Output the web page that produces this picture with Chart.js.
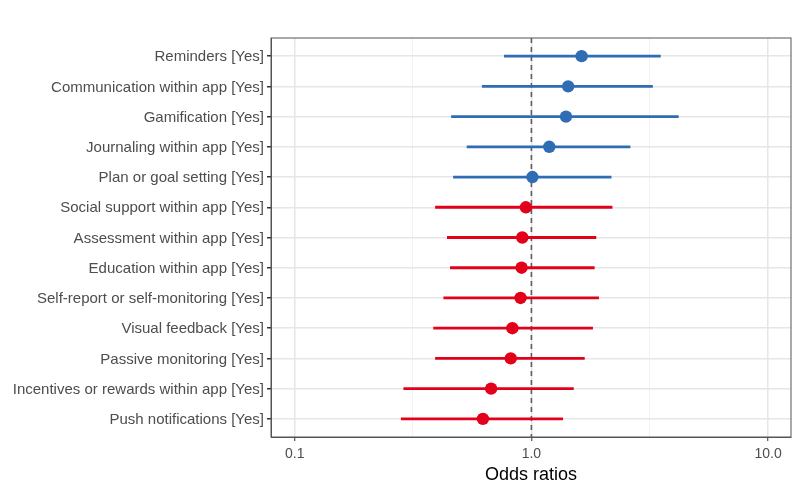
<!DOCTYPE html>
<html>
<head>
<meta charset="utf-8">
<script src="https://cdn.jsdelivr.net/npm/chart.js@4"></script>
<style>
  html, body { margin: 0; padding: 0; background: #fff; }
  #wrap { width: 800px; height: 492px; }
</style>
</head>
<body>
<div id="wrap"><canvas id="forest"></canvas></div>
<script>
// values
const labels = [
    'Reminders [Yes]',
    'Communication within app [Yes]',
    'Gamification [Yes]',
    'Journaling within app [Yes]',
    'Plan or goal setting [Yes]',
    'Social support within app [Yes]',
    'Assessment within app [Yes]',
    'Education within app [Yes]',
    'Self-report or self-monitoring [Yes]',
    'Visual feedback [Yes]',
    'Passive monitoring [Yes]',
    'Incentives or rewards within app [Yes]',
    'Push notifications [Yes]'
];
const oddsRatio = [1.63, 1.43, 1.40, 1.19, 1.01, 0.948, 0.915, 0.909, 0.90, 0.831, 0.818, 0.676, 0.624];
const ciLow     = [0.766, 0.618, 0.458, 0.533, 0.467, 0.392, 0.440, 0.453, 0.425, 0.385, 0.392, 0.288, 0.281];
const ciHigh    = [3.52, 3.26, 4.19, 2.62, 2.18, 2.20, 1.88, 1.85, 1.93, 1.82, 1.68, 1.51, 1.36];
const xTicks    = [0.1, 0.316, 1, 3.16, 10];
const xTickText = ['0.1', '', '1.0', '', '10.0'];

const BLUE = '#2E6DB4';
const RED = '#E3001B';
const colorOf = i => (oddsRatio[i] > 1 ? BLUE : RED);

const ciSets = labels.map((lab, i) => ({
    type: 'line',
    label: lab,
    data: [{ x: ciLow[i], y: i }, { x: ciHigh[i], y: i }],
    borderColor: colorOf(i),
    borderWidth: 2.8,
    pointRadius: 0,
    order: 2
}));

const refLine = {
    type: 'line',
    label: 'ref',
    data: [{ x: 1, y: -0.6 }, { x: 1, y: labels.length - 0.4 }],
    borderColor: '#606060',
    borderWidth: 1.6,
    borderDash: [5, 4],
    pointRadius: 0,
    order: 3
};

const points = {
    type: 'scatter',
    label: 'OR',
    data: oddsRatio.map((v, i) => ({ x: v, y: i })),
    backgroundColor: labels.map((_, i) => colorOf(i)),
    borderWidth: 0,
    pointRadius: 6.2,
    order: 1
};

Chart.defaults.font.family = 'Arial, "Liberation Sans", sans-serif';

document.addEventListener('DOMContentLoaded', () => {
    new Chart(document.getElementById('forest'), {
        data: { datasets: [...ciSets, refLine, points] },
        options: {
            responsive: true,
            maintainAspectRatio: false,
            animation: false,
            layout: { padding: { top: 38, right: 9, left: 0, bottom: 6 } },
            plugins: { legend: { display: false }, tooltip: { enabled: false } },
            scales: {
                x: {
                    type: 'logarithmic',
                    min: 0.0794,
                    max: 12.5,
                    afterBuildTicks: s => { s.ticks = xTicks.map(v => ({ value: v })); },
                    afterFit: s => { s.height = 49; },
                    ticks: {
                        autoSkip: false,
                        maxRotation: 0,
                        color: '#4D4D4D',
                        font: { size: 14 },
                        padding: 5,
                        callback: (v, idx) => xTickText[idx]
                    },
                    grid: {
                        color: c => (xTickText[c.index] ? '#E6E6E6' : '#F0F0F0'),
                        lineWidth: c => (xTickText[c.index] ? 1.5 : 0.9),
                        tickColor: c => (xTickText[c.index] ? '#333333' : 'rgba(0,0,0,0)'),
                        tickLength: 4,
                        tickWidth: 1
                    },
                    border: { color: '#555555', width: 1 },
                    title: {
                        display: true,
                        text: 'Odds ratios',
                        color: '#000',
                        font: { size: 18 },
                        padding: { top: 0, bottom: 0 }
                    }
                },
                y: {
                    type: 'linear',
                    reverse: true,
                    min: -0.6,
                    max: labels.length - 0.4,
                    afterBuildTicks: s => { s.ticks = labels.map((_, i) => ({ value: i })); },
                    afterFit: s => { s.width = 271; },
                    ticks: {
                        autoSkip: false,
                        color: '#4D4D4D',
                        font: { size: 15 },
                        padding: 3,
                        labelOffset: 1,
                        callback: (v) => labels[v]
                    },
                    grid: {
                        color: '#E6E6E6',
                        lineWidth: 1.5,
                        tickColor: '#333333',
                        tickLength: 4
                    },
                    border: { color: '#555555', width: 1 }
                }
            }
        },
        plugins: [{
            id: 'panelBorder',
            afterDraw(chart) {
                const a = chart.chartArea, ctx = chart.ctx;
                ctx.save();
                ctx.strokeStyle = '#555555';
                ctx.lineWidth = 1;
                ctx.strokeRect(a.left, a.top, a.right - a.left, a.bottom - a.top);
                ctx.restore();
            }
        }]
    });
});
</script>
</body>
</html>
